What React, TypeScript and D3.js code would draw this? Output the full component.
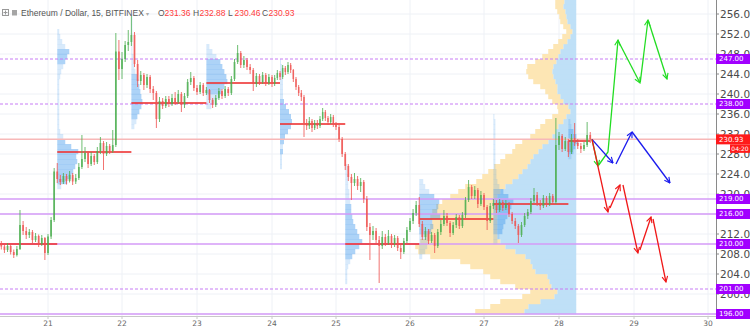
import React from "react";
import * as d3 from "d3";

// ---------------- data ----------------
const dayTicks = [20, 21, 22, 23, 24, 25, 26, 27, 28, 29, 30];
const dayTickLabels = ["20", "21", "22", "23", "24", "25", "26", "27", "28", "29", "30"];
const priceTicks = [196, 200, 204, 208, 212, 216, 220, 224, 228, 232, 236, 240, 244, 248, 252, 256];

const headerTitle = "Ethereum / Dollar, 15, BITFINEX";
const ohlcLetters = ["O", "H", "L", "C"];
const ohlcValues = ["231.36", "232.88", "230.46", "230.93"];

// hourly candles from day 20, 09:00
const firstCandleDay = 20;
const firstCandleHour = 9;
const firstOpen = 210.0;
const closes = [
  209.5, 208.8, 209.6, 208.4, 207.8, 209.0, 213.8, 212.6, 211.8, 212.4, 210.8, 211.6, 210.0, 211.2, 208.2,
  211.5, 214.8, 224.5, 223.0, 222.4, 223.6, 222.6, 223.8, 222.5, 223.2, 225.4, 227.0, 228.2, 226.0, 227.6, 226.4, 228.6, 230.2, 228.0, 229.6, 228.6, 229.8, 248.5, 245.0,
  247.0, 249.8, 250.4, 251.8, 246.0, 242.6, 243.8, 241.8, 243.4, 241.0, 240.2, 235.0, 238.6, 237.6, 239.0, 238.0, 239.2, 238.4, 240.0, 237.8, 239.6, 242.4, 243.2, 241.2,
  240.4, 241.8, 240.2, 240.8, 238.8, 237.8, 239.2, 240.6, 239.6, 241.0, 240.2, 243.0, 246.4, 248.2, 245.8, 246.8, 245.4, 244.8, 242.0, 243.6, 242.4, 243.8, 242.2, 243.4,
  242.0, 243.2, 244.2, 243.4, 245.2, 244.4, 245.8, 244.8, 243.0, 241.4, 240.2, 239.4, 234.2, 233.6, 234.6, 233.2, 234.2, 233.6, 235.0, 236.4, 235.2, 234.4, 235.4, 234.0,
  233.4, 231.0, 228.0, 225.6, 223.4, 222.2, 223.0, 221.6, 222.4, 219.0, 213.4, 211.8, 212.6, 210.8, 209.6, 211.4, 210.2, 211.6, 210.0, 211.2, 209.2, 208.4, 210.6, 212.8,
  214.6, 216.2, 217.8, 214.0, 211.4, 212.6, 210.6, 211.8, 209.6, 212.4, 214.0, 215.6, 214.2, 212.2, 213.8, 215.4, 213.6, 215.8, 218.8, 221.4, 219.6, 220.8, 218.0, 219.8,
  217.4, 214.6, 217.6, 218.2, 216.8, 218.4, 217.2, 218.0, 216.0, 214.6, 213.6, 211.8, 213.8, 215.6, 216.4, 218.6, 219.8, 218.2, 217.6, 219.2, 218.0, 219.6, 218.4, 229.8,
  231.6, 229.0, 230.6, 228.4, 231.2, 230.2, 229.6, 229.0, 229.8, 231.8, 230.93,
];
const highs = [
  210.6, 210.0, 210.2, 209.9, 208.9, 209.6, 216.8, 214.6, 213.4, 213.0, 212.8, 212.2, 211.9, 211.8, 211.4,
  212.0, 215.4, 225.2, 226.2, 223.8, 224.2, 224.0, 224.6, 224.2, 224.0, 226.2, 231.8, 229.4, 228.6, 228.4, 228.0, 229.4, 231.4, 230.6, 230.4, 230.0, 232.8, 252.2, 250.8,
  248.4, 250.6, 252.8, 255.6, 252.4, 246.8, 244.6, 244.2, 244.0, 243.8, 241.6, 240.6, 239.4, 239.2, 239.6, 239.6, 240.0, 240.4, 240.8, 240.4, 240.2, 243.0, 244.4, 243.6,
  241.8, 242.4, 242.2, 241.4, 241.0, 239.2, 239.8, 241.2, 241.0, 241.6, 241.4, 243.6, 247.0, 249.8, 248.6, 247.6, 247.2, 246.0, 245.2, 244.2, 244.0, 244.4, 244.2, 244.0,
  243.8, 243.8, 244.8, 244.6, 245.8, 245.6, 246.4, 246.2, 245.0, 243.4, 241.8, 240.8, 239.8, 235.0, 235.4, 235.0, 234.8, 234.8, 235.6, 237.2, 236.8, 235.6, 236.0, 235.8,
  234.4, 233.8, 231.4, 228.4, 226.0, 224.0, 224.2, 223.6, 223.2, 222.8, 219.6, 214.2, 213.6, 213.2, 211.6, 212.6, 212.0, 212.8, 212.0, 211.8, 211.6, 210.0, 211.2, 213.4,
  215.2, 217.0, 218.6, 219.4, 214.6, 213.4, 213.0, 212.4, 212.2, 213.0, 214.8, 216.8, 216.2, 214.6, 214.4, 216.0, 215.8, 216.4, 219.4, 222.8, 221.8, 221.6, 221.2, 220.6,
  220.2, 217.8, 218.2, 219.0, 218.8, 219.0, 218.8, 218.8, 218.4, 216.4, 215.2, 214.0, 214.4, 216.2, 217.0, 219.2, 221.2, 220.4, 218.8, 219.8, 219.6, 220.2, 220.0, 235.2,
  232.4, 232.0, 231.4, 231.0, 232.0, 234.2, 231.0, 230.2, 230.4, 234.4, 232.4,
];
const lows = [
  208.9, 208.2, 208.4, 207.9, 207.2, 207.5, 208.8, 211.8, 211.0, 211.2, 210.2, 210.4, 209.4, 209.6, 206.8,
  207.8, 211.0, 214.4, 222.2, 221.8, 222.0, 221.9, 222.3, 221.8, 222.0, 222.8, 225.0, 226.4, 225.2, 225.6, 225.8, 226.0, 228.0, 224.8, 227.6, 228.0, 228.2, 229.4, 242.8,
  243.0, 246.4, 248.6, 249.6, 245.4, 241.4, 241.8, 240.8, 241.2, 240.2, 238.8, 233.2, 234.4, 237.0, 237.2, 237.4, 237.6, 237.8, 238.0, 236.4, 237.2, 239.2, 241.8, 240.6,
  239.8, 240.0, 239.6, 239.8, 238.2, 237.2, 237.4, 238.8, 239.0, 239.2, 239.6, 239.8, 242.6, 246.0, 245.2, 245.2, 244.8, 244.0, 240.6, 241.4, 241.8, 242.0, 241.6, 241.8,
  241.4, 241.6, 242.8, 242.8, 243.0, 243.8, 244.0, 244.2, 242.4, 240.8, 239.6, 238.6, 231.4, 232.8, 233.0, 232.4, 232.8, 233.0, 233.2, 234.6, 234.6, 233.8, 234.0, 233.4,
  232.8, 230.4, 227.4, 224.8, 222.6, 218.8, 221.6, 220.8, 220.4, 218.2, 212.6, 206.8, 210.8, 210.2, 202.2, 209.0, 209.6, 209.8, 209.2, 209.4, 208.6, 207.0, 208.0, 210.2,
  212.4, 214.0, 215.6, 213.4, 210.8, 210.8, 210.0, 210.2, 208.2, 209.2, 211.8, 213.6, 213.6, 211.4, 211.8, 213.2, 213.0, 213.2, 215.2, 218.4, 219.0, 219.0, 217.2, 217.6,
  216.8, 212.8, 214.2, 217.0, 216.2, 216.4, 216.6, 216.8, 215.4, 214.0, 213.0, 210.2, 211.4, 213.4, 215.0, 216.0, 218.2, 217.6, 216.8, 217.2, 217.4, 217.6, 217.8, 218.0,
  228.8, 228.4, 228.6, 227.4, 228.0, 229.6, 229.0, 228.2, 228.6, 229.4, 230.2,
];

// visible-range volume profile (bins of 1 USD, lower bound from 196)
const vpvrLowPrice = 196;
const vpvrEndTime = 28.23;
const vpvrUpVolume = [
  52, 48, 36, 22, 19, 25, 27, 29, 41, 44, 46, 51, 61, 71, 76, 79, 79, 79, 79, 79, 79, 79, 79, 79,
  76, 71, 64, 58, 54, 49, 46, 43, 38, 34, 28, 24, 21, 18, 13, 10, 6, 8, 13, 16, 19, 19, 21, 23,
  24, 23, 20, 18, 16, 13, 9, 6, 4, 6, 9, 10, 11, 13, 12,
];
const vpvrDownVolume = [
  49, 38, 40, 32, 27, 36, 49, 57, 52, 62, 70, 95, 97, 90, 80, 72, 69, 67, 65, 67, 65, 61, 55, 47,
  42, 40, 36, 36, 34, 33, 30, 28, 26, 27, 26, 22, 20, 18, 18, 14, 12, 11, 11, 12, 12, 17, 22, 25,
  26, 26, 21, 16, 12, 10, 9, 8, 6, 7, 7, 7, 8, 8, 9,
];

// session volume profiles: [price bin, volume]
const sessionDays = [21, 22, 23, 24, 25, 26, 27, 28];
const sessionOffsetHours = 3;
const profile21 = [[221, 4], [222, 10], [223, 14], [224, 16], [225, 18], [226, 20], [227, 19], [228, 21], [229, 14], [230, 8], [231, 6], [232, 3], [233, 2], [234, 2], [235, 2], [236, 2], [237, 2], [238, 2], [239, 2], [240, 2], [241, 2], [242, 2], [243, 3], [244, 4], [245, 6], [246, 8], [247, 10], [248, 12], [249, 8], [250, 5], [251, 3], [252, 2]];
const profile22 = [[233, 3], [234, 5], [235, 6], [236, 8], [237, 10], [238, 11], [239, 10], [240, 9], [241, 8], [242, 7], [243, 6], [244, 4], [245, 3], [246, 2], [247, 2], [248, 1], [249, 1], [250, 1], [251, 1], [252, 1], [253, 1], [254, 1], [255, 1]];
const profile23 = [[237, 5], [238, 8], [239, 12], [240, 15], [241, 18], [242, 21], [243, 20], [244, 18], [245, 16], [246, 14], [247, 10], [248, 6], [249, 3]];
const profile24 = [[225, 2], [226, 2], [227, 2], [228, 3], [229, 3], [230, 4], [231, 5], [232, 8], [233, 11], [234, 12], [235, 11], [236, 9], [237, 6], [238, 4], [239, 3], [240, 3], [241, 3], [242, 3], [243, 2], [244, 2], [245, 2], [246, 1]];
const profile25 = [[202, 2], [203, 2], [204, 2], [205, 3], [206, 5], [207, 7], [208, 10], [209, 14], [210, 17], [211, 14], [212, 12], [213, 10], [214, 8], [215, 7], [216, 6], [217, 6], [218, 5], [219, 4], [220, 4], [221, 3], [222, 3], [223, 3], [224, 2], [225, 2]];
const profile26 = [[207, 3], [208, 6], [209, 8], [210, 9], [211, 10], [212, 12], [213, 14], [214, 13], [215, 21], [216, 18], [217, 19], [218, 20], [219, 15], [220, 10], [221, 6], [222, 4]];
const profile27 = [[210, 4], [211, 6], [212, 9], [213, 10], [214, 12], [215, 14], [216, 16], [217, 18], [218, 20], [219, 15], [220, 10], [221, 6], [222, 4], [223, 3], [224, 3], [225, 2], [226, 2], [227, 2], [228, 2], [229, 2], [230, 2], [231, 2], [232, 2], [233, 2], [234, 2], [235, 1]];
const profile28 = [[227, 3], [228, 5], [229, 7], [230, 10], [231, 8], [232, 5], [233, 3], [234, 2]];
const sessionProfiles = [profile21, profile22, profile23, profile24, profile25, profile26, profile27, profile28];

// points of control per session
const pocDays = [20, 21, 22, 23, 24, 25, 26, 27, 28];
const pocPrices = [210.0, 228.4, 238.2, 242.2, 234.0, 210.0, 215.0, 218.0, 230.6];

// horizontal levels
const dashedLevels = [247, 238, 201];
const solidLevels = [219, 216, 210, 196];
const lastPrice = 230.93;
const countdown = "04:20";

// projected scenario arrows: [day, price]
const greenArrows = [
  [[28.44, 230.93], [28.52, 225.6]],
  [[28.53, 225.8], [28.653, 228.4], [28.787, 250.8]],
  [[28.79, 250.6], [29.081, 242.2]],
  [[29.085, 242.4], [29.189, 254.8]],
  [[29.195, 254.6], [29.446, 243.0]],
];
const blueArrows = [
  [[28.44, 230.93], [28.72, 226.2]],
  [[28.76, 226.0], [28.973, 232.4]],
  [[28.975, 232.4], [29.486, 222.2]],
];
const redArrows = [
  [[28.44, 230.93], [28.653, 216.4]],
  [[28.68, 217.2], [28.813, 221.8]],
  [[28.853, 221.8], [29.053, 208.2]],
  [[29.08, 208.8], [29.23, 215.4]],
  [[29.257, 215.0], [29.432, 202.4]],
];

// ---------------- component ----------------
const W = 750;
const H = 332;
const PLOT_R = 716;
const PLOT_B = 316;

export default function App() {
  const x = d3
    .scaleLinear()
    .domain(dayTicks)
    .range([-26.7, 48, 122, 197, 272, 336, 410, 484, 559, 634, 708]);
  const y = d3.scaleLinear().domain([195.8, 258.8]).range([315, 0]);
  const volPx = d3.scaleLinear().domain([0, 100]).range([0, 100]);

  const up = "#4caf50";
  const down = "#ef5350";
  const purple = "#a100ff";
  const levelDash = "#c77df5";
  const levelSolid = "#d59bf7";

  const candles = closes.map((c, i) => {
    const t = firstCandleDay + (firstCandleHour + i) / 24;
    const o = i === 0 ? firstOpen : closes[i - 1];
    return { t, o, c, h: Math.max(highs[i], o, c), l: Math.min(lows[i], o, c) };
  });
  const lastT = candles[candles.length - 1].t;

  const vpvrX = x(vpvrEndTime);

  const lineGen = d3
    .line<number[]>()
    .x((d) => x(d[0]))
    .y((d) => y(d[1]));

  const valueArea = (prof: number[][]) => {
    const total = d3.sum(prof, (d) => d[1]);
    const sorted = prof.slice().sort((a, b) => b[1] - a[1]);
    const set = new Set<number>();
    let acc = 0;
    for (const r of sorted) {
      if (acc >= total * 0.7) break;
      acc += r[1];
      set.add(r[0]);
    }
    return set;
  };

  const arrowGroups = [
    { arrows: greenArrows, color: "#22dd22", id: "g" },
    { arrows: blueArrows, color: "#1a1aee", id: "b" },
    { arrows: redArrows, color: "#f01818", id: "r" },
  ];

  const font = "'DejaVu Sans', sans-serif";
  const hfont = "'Liberation Sans', Arial, sans-serif";

  // price levels that carry a label box hide the axis tick text at the same price
  const labelledPrices = new Set([...dashedLevels, ...solidLevels]);

  const rightLabel = (price: number, text: string, bg: string, key: string) => (
    <g key={key}>
      <rect x={716} y={y(price) - 5} width={34} height={10} fill={bg} />
      <text x={719} y={y(price) + 0.3} dominantBaseline="central" fontSize={7} fill="#fff" fontFamily={font}>
        {text}
      </text>
    </g>
  );

  return (
    <svg
      width={W}
      height={H}
      style={{ position: "fixed", left: 0, top: 0, background: "#fff", display: "block" }}
    >
      <defs>
        <clipPath id="plot">
          <rect x={0} y={0} width={PLOT_R} height={PLOT_B} />
        </clipPath>
        {arrowGroups.map((g) => (
          <marker
            key={g.id}
            id={"ah-" + g.id}
            viewBox="0 0 10 10"
            refX={9}
            refY={5}
            markerWidth={7}
            markerHeight={7}
            markerUnits="userSpaceOnUse"
            orient="auto"
          >
            <path d="M1,1 L9,5 L1,9" fill="none" stroke={g.color} strokeWidth={1.6} />
          </marker>
        ))}
      </defs>

      <rect x={0} y={0} width={W} height={H} fill="#fff" />

      <g clipPath="url(#plot)">
        {/* grid */}
        {priceTicks.map((p) => (
          <line key={"hg" + p} x1={0} x2={PLOT_R} y1={y(p)} y2={y(p)} stroke="#eef1f6" strokeWidth={1} />
        ))}
        {dayTicks.map((d) => (
          <line key={"vg" + d} x1={x(d)} x2={x(d)} y1={0} y2={PLOT_B} stroke="#eef1f6" strokeWidth={1} />
        ))}

        {/* visible range volume profile */}
        {vpvrUpVolume.map((v, i) => {
          const p = vpvrLowPrice + i;
          const y0 = y(p + 1);
          const hgt = y(p) - y(p + 1);
          const bw = volPx(v);
          const yw = volPx(vpvrDownVolume[i]);
          return (
            <g key={"vp" + i}>
              <rect x={vpvrX - bw} y={y0} width={bw} height={hgt + 0.2} fill="#bfe0f7" />
              <rect x={vpvrX - bw - yw} y={y0} width={yw} height={hgt + 0.2} fill="#fde6b4" />
            </g>
          );
        })}

        {/* session profiles */}
        {sessionProfiles.map((prof, si) => {
          const sx = x(sessionDays[si] + sessionOffsetHours / 24);
          const va = valueArea(prof);
          return (
            <g key={"sp" + si}>
              {prof.map(([p, v]) => (
                <rect
                  key={p}
                  x={sx}
                  y={y(p + 1)}
                  width={volPx(v)}
                  height={y(p) - y(p + 1) + 0.2}
                  fill={va.has(p) ? "rgba(60,150,235,0.42)" : "rgba(60,150,235,0.2)"}
                />
              ))}
            </g>
          );
        })}

        {/* levels */}
        {dashedLevels.map((p) => (
          <line key={"dl" + p} x1={0} x2={PLOT_R} y1={y(p)} y2={y(p)} stroke={levelDash} strokeWidth={1} strokeDasharray="3,2" />
        ))}
        {solidLevels.map((p) => (
          <line key={"sl" + p} x1={0} x2={PLOT_R} y1={y(p)} y2={y(p)} stroke={levelSolid} strokeWidth={1.5} />
        ))}
        <line x1={0} x2={PLOT_R} y1={y(lastPrice)} y2={y(lastPrice)} stroke="#f7b8b8" strokeWidth={1.5} />

        {/* POC lines */}
        {pocDays.map((d, i) => {
          const x1 = x(d + sessionOffsetHours / 24);
          const x2 = i === pocDays.length - 1 ? x(lastT) : x(d + 1 + sessionOffsetHours / 24);
          return (
            <line key={"poc" + d} x1={x1} x2={x2} y1={y(pocPrices[i])} y2={y(pocPrices[i])} stroke="#ee3333" strokeOpacity={0.8} strokeWidth={2} />
          );
        })}

        {/* candles */}
        {candles.map((k, i) => {
          const cx = x(k.t);
          const sp = x(k.t + 1 / 24) - x(k.t);
          const bw = Math.max(1, sp * 0.55);
          const col = k.c >= k.o ? up : down;
          const top = y(Math.max(k.o, k.c));
          const bh = Math.max(0.8, Math.abs(y(k.o) - y(k.c)));
          return (
            <g key={"c" + i} opacity={0.9}>
              <line x1={cx} x2={cx} y1={y(k.h)} y2={y(k.l)} stroke={col} strokeWidth={0.9} />
              <rect x={cx - bw / 2} y={top} width={bw} height={bh} fill={col} />
            </g>
          );
        })}

        {/* scenario arrows */}
        {arrowGroups.map((g) =>
          g.arrows.map((a, j) => (
            <path
              key={g.id + j}
              d={lineGen(a as number[][]) || ""}
              fill="none"
              stroke={g.color}
              strokeWidth={1.3}
              markerEnd={`url(#ah-${g.id})`}
            />
          ))
        )}
      </g>

      {/* axes */}
      <line x1={PLOT_R + 0.5} x2={PLOT_R + 0.5} y1={0} y2={PLOT_B} stroke="#8a8a8a" strokeWidth={1} />
      <line x1={0} x2={PLOT_R} y1={PLOT_B + 0.5} y2={PLOT_B + 0.5} stroke="#c8c8c8" strokeWidth={1} />
      {priceTicks.map((p) => (
        <g key={"pt" + p}>
          <line x1={PLOT_R} x2={PLOT_R + 3} y1={y(p)} y2={y(p)} stroke="#8a8a8a" />
          {labelledPrices.has(p) ? null : (
            <text x={720} y={y(p)} dominantBaseline="central" fontSize={10.5} fill="#4a4a4a" fontFamily={font}>
              {p.toFixed(1)}
            </text>
          )}
        </g>
      ))}
      {dayTicks.map((d, i) =>
        x(d) > 5 ? (
          <g key={"dt" + d}>
            <line x1={x(d)} x2={x(d)} y1={PLOT_B} y2={PLOT_B + 3} stroke="#c8c8c8" />
            <text x={x(d)} y={326} textAnchor="middle" fontSize={7.5} fill="#666" fontFamily={font}>
              {dayTickLabels[i]}
            </text>
          </g>
        ) : null
      )}

      {/* right-side price labels */}
      {dashedLevels.map((p) => rightLabel(p, p.toFixed(2), purple, "dlab" + p))}
      {solidLevels.map((p) => rightLabel(p, p.toFixed(2), purple, "slab" + p))}
      {rightLabel(lastPrice, lastPrice.toFixed(2), "#ff1a1a", "last")}
      <rect x={730} y={y(lastPrice) + 5} width={20} height={8.5} fill="#ff1a1a" />
      <text x={740} y={y(lastPrice) + 9.4} dominantBaseline="central" textAnchor="middle" fontSize={6} fill="#fff" fontFamily={font}>
        {countdown}
      </text>

      {/* header */}
      <g>
        <rect x={2.5} y={9.5} width={6} height={6} fill="none" stroke="#999" strokeWidth={1} />
        <line x1={5.5} x2={5.5} y1={10.5} y2={14.5} stroke="#999" />
        <line x1={3.5} x2={7.5} y1={12.5} y2={12.5} stroke="#999" />
        <rect x={12} y={10} width={5} height={5.5} fill="#a5a5a5" />
        <text x={21} y={16.2} fontSize={8.5} fill="#555" fontFamily={hfont}>
          {headerTitle}
        </text>
        <text x={146} y={15.5} fontSize={6} fill="#aaa" fontFamily={hfont}>
          ▾
        </text>
        {ohlcLetters.map((l, i) => {
          const bx = [158, 193, 228, 262][i];
          return (
            <g key={l}>
              <text x={bx} y={16.2} fontSize={8.5} fill="#555" fontFamily={hfont}>
                {l}
              </text>
              <text x={bx + 6.5} y={16.2} fontSize={8.5} fill="#ff3b3b" fontFamily={hfont}>
                {ohlcValues[i]}
              </text>
            </g>
          );
        })}
      </g>
    </svg>
  );
}
